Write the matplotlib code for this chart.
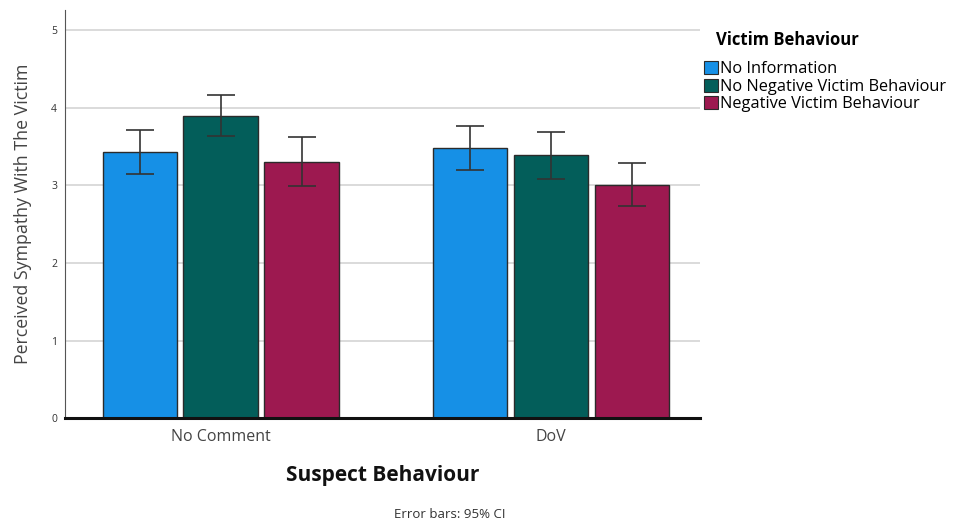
import numpy as np
import matplotlib
matplotlib.use("Agg")
import matplotlib.pyplot as plt
from matplotlib.patches import Patch

plt.rcParams['font.family'] = ['Open Sans', 'DejaVu Sans']

suspect = ["No Comment", "DoV"]
victim = ["No Information", "No Negative Victim Behaviour", "Negative Victim Behaviour"]
colors = ["#1690E6", "#035E5A", "#9D1950"]

means = [[3.43, 3.48],
         [3.89, 3.39],
         [3.30, 3.00]]
ci_low = [[3.14, 3.20],
          [3.63, 3.08],
          [2.99, 2.73]]
ci_high = [[3.71, 3.76],
           [4.16, 3.69],
           [3.62, 3.29]]

fig = plt.figure(figsize=(9.61, 5.22), dpi=100)
ax = fig.add_axes([0.068, 0.199, 0.66, 0.782])

x = np.arange(len(suspect))
width = 0.225
step = 0.245
for i in range(len(victim)):
    pos = x + (i - 1) * step
    m = np.array(means[i])
    lo = m - np.array(ci_low[i])
    hi = np.array(ci_high[i]) - m
    ax.bar(pos, m, width, color=colors[i], edgecolor="#2b2b2b", linewidth=1.0, zorder=2)
    ax.errorbar(pos, m, yerr=[lo, hi], fmt="none", ecolor="#333333", elinewidth=1.2,
                capsize=10, capthick=1.2, zorder=3)

ax.set_xlim(-0.47, 1.45)
ax.set_ylim(0, 5.26)
ax.set_yticks([0, 1, 2, 3, 4, 5])
ax.set_yticklabels(["0", "1", "2", "3", "4", "5"], fontsize=7.5, color="#333333")
ax.set_xticks(x)
ax.set_xticklabels(suspect, fontsize=11.5, color="#444444")
ax.tick_params(axis="both", length=0)
ax.tick_params(axis="y", pad=6)
ax.tick_params(axis="x", pad=8)
ax.grid(axis="y", color="#d4d4d4", linewidth=1.2, zorder=0)
ax.set_axisbelow(True)
for s in ["top", "right"]:
    ax.spines[s].set_visible(False)
ax.spines["left"].set_color("#555555")
ax.spines["left"].set_linewidth(0.8)
ax.spines["bottom"].set_color("#111111")
ax.spines["bottom"].set_linewidth(2.2)
ax.spines["bottom"].set_zorder(4)

ax.set_ylabel("Perceived Sympathy With The Victim", fontsize=12.8, color="#444444", labelpad=14)
ax.set_xlabel("Suspect Behaviour", fontsize=15, fontweight="bold", color="#111111", labelpad=14)

handles = [Patch(facecolor=c, edgecolor="#2b2b2b", linewidth=0.8) for c in colors]
leg = fig.legend(handles, victim, title="Victim Behaviour", loc="upper left",
                 bbox_to_anchor=(0.726, 0.954), frameon=False, fontsize=11.8,
                 title_fontproperties={"weight": "bold", "size": 12},
                 handlelength=0.85, handleheight=0.85, handletextpad=0.1,
                 labelspacing=0.08, borderaxespad=0)
leg._legend_box.align = "left"
leg._legend_box.sep = 9
leg.get_title().set_position((12, 0))

fig.text(0.468, 0.008, "Error bars: 95% CI", fontsize=9.5, color="#333333", ha="center")

fig.savefig("out.png", dpi=100)
